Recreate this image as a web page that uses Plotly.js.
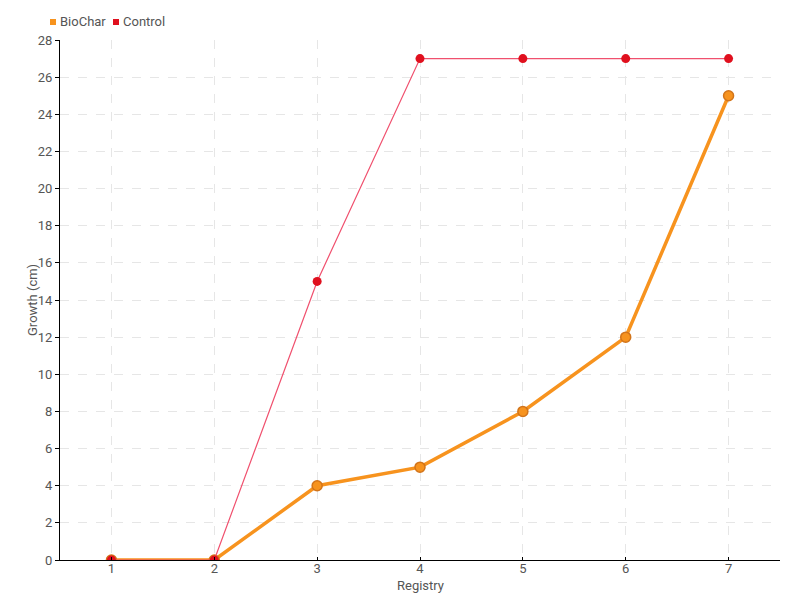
<!DOCTYPE html>
<html><head><meta charset="utf-8">
<script src="https://cdn.plot.ly/plotly-3.0.1.min.js"></script>
<style>body{margin:0;padding:0;}#chart{width:800px;height:600px;}</style>
</head><body><div id="chart"></div>
<script>
const registry = [1, 2, 3, 4, 5, 6, 7];
const biochar = [0, 0, 4, 5, 8, 12, 25];
const control = [0, 0, 15, 27, 27, 27, 27];
const yTicks = [0,2,4,6,8,10,12,14,16,18,20,22,24,26,28];
const seriesNames = ['BioChar', 'Control'];
const seriesColors = ['#f7931e', '#e0101e'];

const fontFam = 'Roboto, "Liberation Sans", sans-serif';
const W = 720, H = 520; // plot area size in px
const px = v => (v - 60) / W;
const py = v => (560 - v) / H;

const traces = [
  {x: registry, y: biochar, mode: 'lines+markers', name: seriesNames[0], showlegend: false,
   line: {color: seriesColors[0], width: 3.5},
   marker: {color: seriesColors[0], size: 10, line: {color: '#d2741a', width: 1.5}}},
  {x: registry, y: control, mode: 'lines+markers', name: seriesNames[1], showlegend: false,
   line: {color: '#f0506e', width: 1.2},
   marker: {color: seriesColors[1], size: 9, line: {color: seriesColors[1], width: 0}}}
];
const legX = [50, 113];
const shapes = seriesNames.map((n, i) => ({type: 'rect', xref: 'paper', yref: 'paper',
  x0: px(legX[i]), x1: px(legX[i] + 6), y0: py(25), y1: py(19),
  fillcolor: seriesColors[i], line: {width: 0}}));
const annotations = seriesNames.map((n, i) => ({text: n, xref: 'paper', yref: 'paper',
  x: px(legX[i] + 8), y: py(22), xanchor: 'left', yanchor: 'middle', showarrow: false,
  font: {size: 13, color: '#555'}}));
annotations.push({text: 'Growth (cm)', textangle: -90, xref: 'paper', yref: 'paper',
  x: px(32), y: 0.5, xanchor: 'center', yanchor: 'middle', showarrow: false,
  font: {size: 13, color: '#555'}});
annotations.push({text: 'Registry', xref: 'paper', yref: 'paper',
  x: 0.5, y: py(585), xanchor: 'center', yanchor: 'middle', showarrow: false,
  font: {size: 13, color: '#555'}});

const layout = {
  width: 800, height: 600,
  margin: {l: 60, r: 20, t: 40, b: 40},
  paper_bgcolor: '#fff', plot_bgcolor: '#fff',
  font: {family: fontFam, color: '#555', size: 13},
  showlegend: false,
  xaxis: {range: [0.5, 7.5], tickvals: registry, ticktext: registry.map(String),
          showgrid: true, gridcolor: '#e6e6e6', griddash: 'dash', zeroline: false,
          showline: true, linecolor: '#000', linewidth: 1, ticks: 'inside', ticklen: 3, tickcolor: '#000',
          ticklabelstandoff: -4, tickfont: {size: 13, color: '#555'}},
  yaxis: {range: [0, 28], tickvals: yTicks, showgrid: true, gridcolor: '#e6e6e6', griddash: 'dash',
          zeroline: false, showline: true, linecolor: '#000', linewidth: 1,
          ticks: 'outside', ticklen: 4, tickcolor: '#000', tickfont: {size: 13, color: '#555'}},
  shapes: shapes,
  annotations: annotations
};
Plotly.newPlot('chart', traces, layout, {displayModeBar: false});
</script></body></html>
